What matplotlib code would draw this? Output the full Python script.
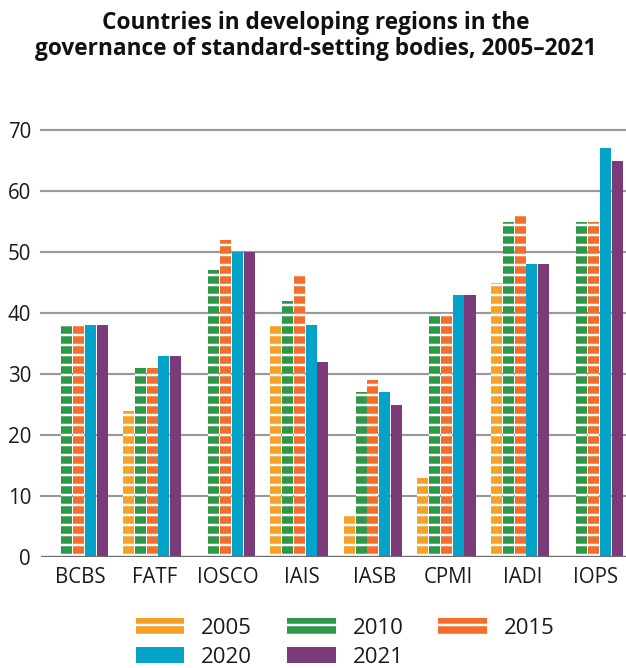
import numpy as np
import matplotlib
matplotlib.use("Agg")
import matplotlib.pyplot as plt
from matplotlib.patches import Patch

plt.rcParams['font.family'] = ['Open Sans', 'DejaVu Sans']
plt.rcParams['hatch.linewidth'] = 1.5

categories = ["BCBS", "FATF", "IOSCO", "IAIS", "IASB", "CPMI", "IADI", "IOPS"]
years = ["2005", "2010", "2015", "2020", "2021"]
v2005 = [0, 24, 0, 38, 7, 13, 45, 0]
v2010 = [38, 31, 47, 42, 27, 40, 55, 55]
v2015 = [38, 31, 52, 46, 29, 40, 56, 55]
v2020 = [38, 33, 50, 38, 27, 43, 48, 67]
v2021 = [38, 33, 50, 32, 25, 43, 48, 65]
series = [v2005, v2010, v2015, v2020, v2021]
colors = ["#F6A027", "#2E9848", "#F26E2A", "#04A3CA", "#7B3A7A"]
striped = [True, True, True, False, False]
yticks = [0, 10, 20, 30, 40, 50, 60, 70]

DPI = 120
fig = plt.figure(figsize=(626 / DPI, 668 / DPI), dpi=DPI)
ax = fig.add_axes([41 / 626, 1 - 557 / 668, 1 - 41 / 626, (557 - 130) / 668])

x = np.arange(len(categories))
step = 0.16
width = 0.15
for j, (vals, c, s) in enumerate(zip(series, colors, striped)):
    ax.bar(x + (j - 2) * step, vals, width=width, color=c,
           edgecolor='white' if s else c, linewidth=0,
           hatch='--' if s else None, zorder=3)

ax.set_xlim(-0.51, 7.44)
ax.set_ylim(0, 70)
ax.set_yticks(yticks)
ax.set_xticks(x + 0.03)
ax.set_xticklabels(categories)
for sp in ax.spines.values():
    sp.set_visible(False)
ax.tick_params(axis='both', length=0, labelsize=12.3, colors='#1a1a1a')
ax.tick_params(axis='y', pad=6)
ax.tick_params(axis='x', pad=6)
for t in yticks[1:]:
    ax.axhline(t, color='#999999', lw=1.3, zorder=1, clip_on=False)
ax.axhline(0, color='#6b6b6b', lw=2.0, zorder=4)

fig.text(0.505, 0.984, "Countries in developing regions in the\ngovernance of standard-setting bodies, 2005\u20132021",
         ha='center', va='top', fontsize=13.6, fontweight='bold', linespacing=1.15, color='#111111')

handles = []
for y, c, s in zip(years, colors, striped):
    handles.append(Patch(facecolor=c, edgecolor='white' if s else c, linewidth=0,
                         hatch='--' if s else None, label=y))
order = [0, 3, 1, 4, 2]
leg = fig.legend([handles[i] for i in order], [years[i] for i in order], ncol=3,
                 loc='center', bbox_to_anchor=(345 / 626, 1 - 643 / 668),
                 frameon=False, fontsize=13.3, handlelength=2.2, handleheight=0.75,
                 handletextpad=0.75, columnspacing=1.58, labelspacing=0.35,
                 borderpad=0)
for t in leg.get_texts():
    t.set_color('#1a1a1a')

fig.savefig("out.png", dpi=DPI)
